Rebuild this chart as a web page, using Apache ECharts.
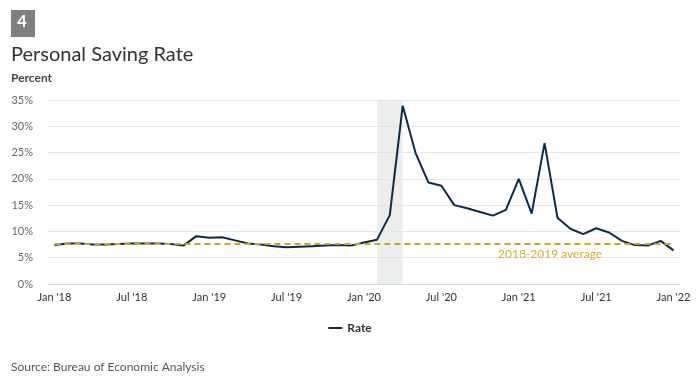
<!DOCTYPE html>
<html>
<head>
<meta charset="utf-8">
<script src="https://cdn.jsdelivr.net/npm/echarts@6/dist/echarts.min.js"></script>
<style>
html,body{margin:0;padding:0;background:#fff;}
#chart{width:700px;height:382px;}
</style>
</head>
<body>
<div id="chart"></div>
<script>
const months = [
 "Jan '18","Feb '18","Mar '18","Apr '18","May '18","Jun '18","Jul '18","Aug '18","Sep '18","Oct '18","Nov '18","Dec '18",
 "Jan '19","Feb '19","Mar '19","Apr '19","May '19","Jun '19","Jul '19","Aug '19","Sep '19","Oct '19","Nov '19","Dec '19",
 "Jan '20","Feb '20","Mar '20","Apr '20","May '20","Jun '20","Jul '20","Aug '20","Sep '20","Oct '20","Nov '20","Dec '20",
 "Jan '21","Feb '21","Mar '21","Apr '21","May '21","Jun '21","Jul '21","Aug '21","Sep '21","Oct '21","Nov '21","Dec '21",
 "Jan '22"
];
const rate = [
 7.4, 7.7, 7.7, 7.5, 7.5, 7.6, 7.7, 7.7, 7.7, 7.6, 7.3, 9.1,
 8.8, 8.9, 8.3, 7.7, 7.5, 7.2, 7.0, 7.1, 7.2, 7.3, 7.4, 7.3,
 7.9, 8.4, 13.1, 33.9, 24.9, 19.3, 18.7, 15.0, 14.4, 13.7, 13.0, 14.1,
 20.0, 13.4, 26.8, 12.6, 10.5, 9.5, 10.6, 9.8, 8.2, 7.4, 7.3, 8.2,
 6.4
];
const average20182019 = 7.6;
const recessionStart = "Feb '20";
const recessionEnd = "Apr '20";

const FONT = 'Lato';
const chart = echarts.init(document.getElementById('chart'), null, {renderer: 'canvas'});
chart.setOption({
  animation: false,
  backgroundColor: '#fff',
  textStyle: {fontFamily: FONT},
  graphic: [
    {type: 'rect', left: 11, top: 10, shape: {width: 24, height: 27}, style: {fill: '#7f7f7f'}},
    {type: 'text', left: 17, top: 13, style: {text: '4', fill: '#fff', font: 'bold 17px ' + FONT}}
  ],
  title: [
    {text: 'Personal Saving Rate', left: 11, top: 45, padding: 0, textStyle: {fontFamily: FONT, fontSize: 20, fontWeight: 'normal', color: '#333'}},
    {text: 'Percent', left: 11, top: 72, padding: 0, textStyle: {fontFamily: FONT, fontSize: 12, fontWeight: 'bold', color: '#444'}},
    {text: 'Source: Bureau of Economic Analysis', left: 11, top: 361, padding: 0, textStyle: {fontFamily: FONT, fontSize: 12, fontWeight: 'normal', color: '#555'}},
    {text: '2018-2019 average', left: 498, top: 248, padding: 0, textStyle: {fontFamily: FONT, fontSize: 12, fontWeight: 'normal', color: '#d4ac2c'}}
  ],
  legend: {
    data: ['Rate'], bottom: 43, left: 'center', icon: 'rect', itemWidth: 14, itemHeight: 2,
    textStyle: {fontFamily: FONT, fontSize: 12, fontWeight: 'bold', color: '#333'}
  },
  grid: {left: 48, right: 20, top: 100, bottom: 98},
  xAxis: {
    type: 'category', data: months, boundaryGap: true,
    axisLine: {lineStyle: {color: '#ccd6eb'}},
    axisTick: {alignWithLabel: true, interval: 5, length: 6, lineStyle: {color: '#ccd6eb'}},
    axisLabel: {interval: 5, color: '#333', fontSize: 11, margin: 8}
  },
  yAxis: {
    type: 'value', min: 0, max: 35, interval: 5,
    axisLine: {show: false}, axisTick: {show: false},
    splitLine: {lineStyle: {color: '#e6e6e6'}},
    axisLabel: {formatter: '{value}%', color: '#666', fontSize: 11, margin: 15}
  },
  series: [{
    name: 'Rate', type: 'line', data: rate, symbol: 'none', smooth: false,
    lineStyle: {color: '#0c2a4b', width: 2}, itemStyle: {color: '#0c2a4b'},
    markArea: {silent: true, itemStyle: {color: 'rgba(224,226,226,0.6)'}, data: [[{xAxis: recessionStart}, {xAxis: recessionEnd}]]},
    markLine: {
      silent: true, symbol: 'none', label: {show: false},
      lineStyle: {color: '#cfa520', type: [6, 4], width: 2},
      data: [[{coord: [months[0], average20182019]}, {coord: [months[months.length - 1], average20182019]}]]
    },
    z: 3
  }]
});
</script>
</body>
</html>
